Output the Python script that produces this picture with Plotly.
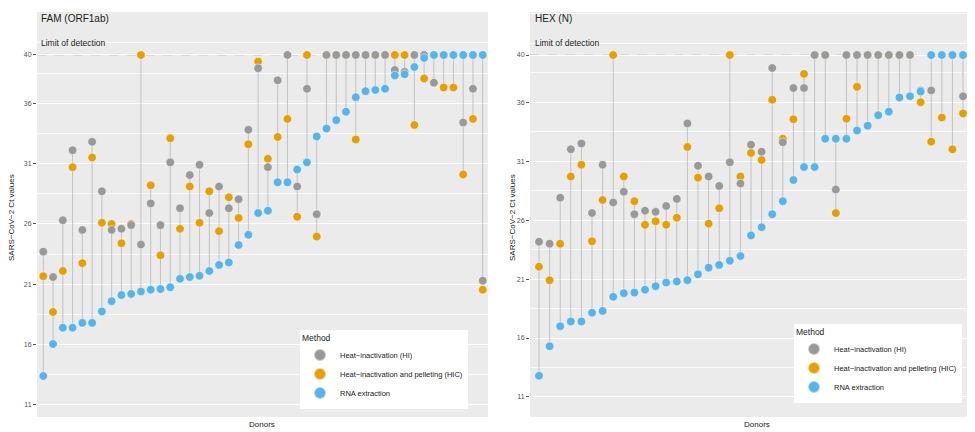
import plotly.graph_objects as go

# ---------------- data ----------------
LOD = 40
methods = ["Heat\u2212inactivation (HI)", "Heat\u2212inactivation and pelleting (HIC)", "RNA extraction"]
colors = {"HI": "#999999", "HIC": "#E69F00", "RNA": "#56B4E9"}

fam_donors = list(range(1, 47))
fam_hi = [23.7, 21.6, 26.3, 32.1, 25.5, 32.8, 28.7, 25.5, 25.6, 25.9,
          24.3, 27.7, 25.9, 31.1, 27.3, 30.05, 30.9, 26.9, 29.1, 27.3,
          28.05, 33.8, 38.9, 30.7, 37.9, 40, 29.1, 37.2, 26.8, 40,
          40, 40, 40, 40, 40, 40, 38.75, 38.6, 40, 40,
          37.7, 40, 40, 34.4, 37.2, 21.3]
fam_hic = [21.67, 18.7, 22.1, 30.7, 22.75, 31.5, 26.1, 26.0, 24.4, 26.0,
           40, 29.2, 23.4, 33.1, 25.6, 29.1, 26.1, 28.7, 25.4, 28.2,
           26.5, 32.6, 39.45, 31.4, 33.2, 34.7, 26.6, 40, 24.95, 40,
           40, 40, 33.0, 40, 40, 40, 40, 40, 34.2, 38.05,
           40, 37.3, 37.3, 30.1, 34.7, 20.55]
fam_rna = [13.4, 16.05, 17.4, 17.4, 17.8, 17.8, 18.75, 19.6, 20.1, 20.2,
           20.4, 20.55, 20.6, 20.75, 21.45, 21.6, 21.7, 22.1, 22.6, 22.8,
           24.25, 25.1, 26.9, 27.1, 29.45, 29.45, 30.5, 31.1, 33.25, 33.9,
           34.6, 35.3, 36.5, 37.0, 37.1, 37.2, 38.3, 38.4, 39.0, 39.75,
           40, 40, 40, 40, 40, 40]

hex_donors = list(range(1, 43))
hex_hi = [24.17, 24.0, 27.9, 32.0, 32.5, 26.6, 30.7, 27.5, 28.4, 26.5,
          26.8, 26.7, 27.2, 27.8, 34.2, 30.6, 29.7, 28.9, 30.9, 29.1,
          32.4, 31.8, 38.9, 32.6, 37.2, 37.2, 40, 40, 28.6, 40,
          40, 40, 40, 40, 40, 40, 37.0, 37.0, 40, 40,
          36.5, 22.5]
hex_hic = [22.05, 20.9, 24.0, 29.7, 30.7, 24.2, 27.7, 40, 29.7, 27.6,
           25.6, 25.9, 25.6, 26.2, 32.2, 29.6, 25.7, 27.0, 40, 29.7,
           31.7, 31.1, 36.2, 32.9, 34.55, 38.4, 40, 40, 26.6, 34.6,
           37.3, 40, 40, 40, 40, 40, 36.0, 32.65, 34.7, 32.0,
           35.05, 22.05]
hex_rna = [12.8, 15.3, 17.0, 17.4, 17.4, 18.15, 18.3, 19.5, 19.8, 19.85,
           20.1, 20.4, 20.7, 20.8, 20.9, 21.4, 21.96, 22.2, 22.55, 22.95,
           24.7, 25.4, 26.5, 27.6, 29.4, 30.5, 30.5, 32.9, 32.9, 32.9,
           33.6, 34.0, 34.9, 35.2, 36.4, 36.5, 36.9, 40, 40, 40,
           40, 40]

y_ticks = [11, 16, 21, 26, 31, 36, 40]

FONT = "Liberation Sans, Arial, sans-serif"
OFF = 8           # page body margin in the browser
W, H = 975 - OFF, 432 - OFF


def px(x):
    return (x - OFF) / W


def py(y):
    return 1 - (y - OFF) / H


fig = go.Figure()


def add_panel(donors, hi, hic, rna, xa, ya, legend):
    xs, ys = [], []
    for d, a, b, c in zip(donors, hi, hic, rna):
        xs += [d, d, None]
        ys += [min(a, b, c), max(a, b, c), None]
    fig.add_trace(go.Scatter(x=xs, y=ys, mode="lines", xaxis=xa, yaxis=ya,
                             line=dict(color="#b0b0b0", width=0.7),
                             showlegend=False, hoverinfo="skip"))
    order = [("HIC", hic, methods[1], 2), ("HI", hi, methods[0], 1), ("RNA", rna, methods[2], 3)]
    for key, vals, name, rank in order:
        fig.add_trace(go.Scatter(
            x=donors, y=vals, mode="markers", name=name, xaxis=xa, yaxis=ya,
            legend=legend, legendrank=rank,
            marker=dict(color=colors[key], size=8.5,
                        line=dict(color="rgba(255,255,255,0.5)", width=1)),
        ))


add_panel(fam_donors, fam_hi, fam_hic, fam_rna, "x", "y", "legend")
add_panel(hex_donors, hex_hi, hex_hic, hex_rna, "x2", "y2", "legend2")

ydom = [py(417), py(12)]
common_y = dict(
    tickvals=y_ticks, ticks="outside", ticklen=3, tickcolor="#555555",
    tickfont=dict(size=7, color="#555555", family=FONT),
    showgrid=True, gridcolor="white", gridwidth=1,
    minor=dict(dtick=2.5, tick0=11, showgrid=True, gridcolor="rgba(255,255,255,0.7)", gridwidth=0.5),
    zeroline=False, showline=False, automargin=False,
)
common_x = dict(showticklabels=False, ticks="", showgrid=False, zeroline=False,
                showline=False, automargin=False)

legend_common = dict(xanchor="left", yanchor="middle", bgcolor="white",
                     font=dict(size=7.5, family=FONT, color="#222222"),
                     title=dict(text="Method", font=dict(size=8.5, family=FONT)),
                     itemsizing="constant", itemwidth=30, tracegroupgap=0, borderwidth=0)

fig.update_layout(
    width=W, height=H,
    margin=dict(l=0, r=0, t=0, b=0),
    paper_bgcolor="white",
    plot_bgcolor="#EBEBEB",
    font=dict(family=FONT, color="#222222"),
    xaxis=dict(domain=[px(37), px(488)], range=[0.355, 46.54], **common_x),
    xaxis2=dict(domain=[px(530), 1.0], range=[0.15, 42.13], anchor="y2", **common_x),
    yaxis=dict(domain=ydom, range=[10.0, 43.56], anchor="x", **common_y),
    yaxis2=dict(domain=ydom, range=[9.3, 43.65], anchor="x2", **common_y),
    legend=dict(x=px(300), y=py(369), **legend_common),
    legend2=dict(x=px(794), y=py(363), **legend_common),
    showlegend=True,
)

# limit of detection lines
for xr, yr in (("x", "y"), ("x2", "y2")):
    fig.add_shape(type="line", xref=f"{xr} domain", yref=yr, x0=0, x1=1, y0=LOD, y1=LOD,
                  line=dict(color="#c4c4c4", width=1, dash="dash"), layer="below")

anns = [
    dict(text="FAM (ORF1ab)", x=39, y=18, size=10),
    dict(text="Limit of detection", x=39, y=43, size=8.5),
    dict(text="HEX (N)", x=533, y=18, size=10),
    dict(text="Limit of detection", x=533, y=43, size=8.5),
]
for a in anns:
    fig.add_annotation(text=a["text"], x=px(a["x"]), y=py(a["y"]), xref="paper", yref="paper",
                       xanchor="left", yanchor="middle", showarrow=False,
                       font=dict(size=a["size"], family=FONT, color="#222222"))

for xpx in (12, 513):
    fig.add_annotation(text="SARS\u2212CoV\u22122 Ct values", x=px(xpx), y=py(218),
                       xref="paper", yref="paper", textangle=-90, showarrow=False,
                       xanchor="center", yanchor="middle",
                       font=dict(size=8, family=FONT, color="#222222"))
for xpx in (262, 757):
    fig.add_annotation(text="Donors", x=px(xpx), y=py(424), xref="paper", yref="paper",
                       showarrow=False, xanchor="center", yanchor="middle",
                       font=dict(size=8, family=FONT, color="#222222"))

fig.write_html("out.html")
